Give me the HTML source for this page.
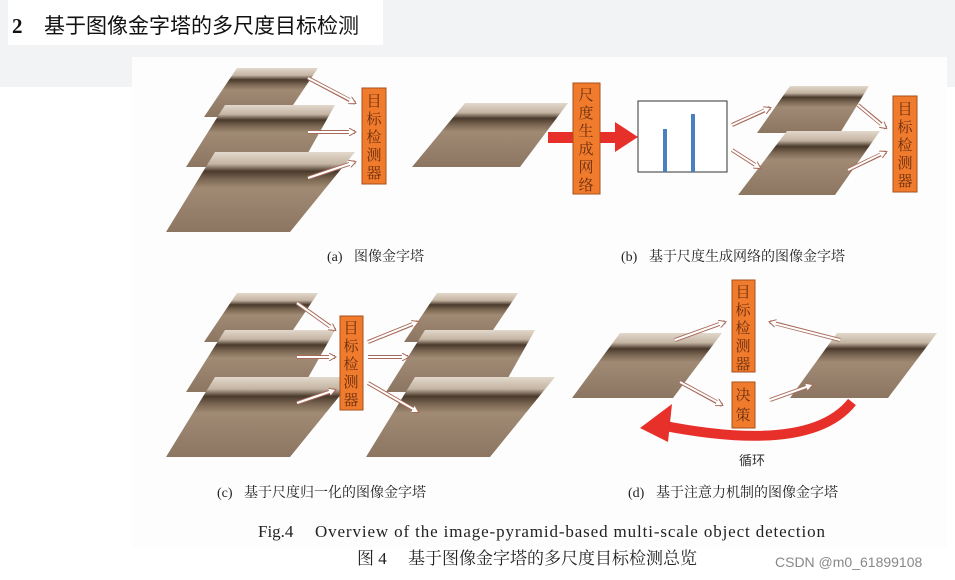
<!DOCTYPE html>
<html><head><meta charset="utf-8"><style>
body{margin:0;width:955px;height:580px;overflow:hidden;background:#f2f3f5;font-family:"Liberation Serif","Noto Serif CJK SC",serif}
svg{position:absolute;left:0;top:0}
</style></head><body>
<svg width="955" height="580" viewBox="0 0 955 580">
<defs>
<linearGradient id="ph" x1="0" y1="0" x2="0" y2="1">
<stop offset="0" stop-color="#e2d8cc"/><stop offset="0.15" stop-color="#c4b4a2"/>
<stop offset="0.24" stop-color="#4a3a2c"/><stop offset="0.34" stop-color="#7a6652"/>
<stop offset="0.45" stop-color="#a08a74"/><stop offset="1" stop-color="#8c7662"/>
</linearGradient>
<marker id="ah" markerWidth="8" markerHeight="8" refX="6" refY="4" orient="auto" markerUnits="userSpaceOnUse"><path d="M0,0 L7,4 L0,8" fill="#fff" stroke="#a86a5a" stroke-width="1"/></marker>
</defs>
<rect x="8" y="0" width="375" height="45" fill="#fff"/>
<rect x="0" y="87" width="955" height="493" fill="#fff"/>
<rect x="132" y="57" width="815" height="490" fill="#fdfdfd"/>
<text x="12" y="33" font-size="21" font-weight="bold" fill="#111">2</text>
<text x="44" y="33" font-size="21" fill="#111" font-family="Noto Sans CJK SC,sans-serif">基于图像金字塔的多尺度目标检测</text>

<g fill="url(#ph)">
<polygon points="237,68 318,68 285,117 204,117"/>
<polygon points="225,105 335,105 300,167 186,167"/>
<polygon points="215,152 355,152 290,232 166,232"/>
<polygon points="465,103 568,103 520,167 412,167"/>
<polygon points="790,86 869,86 840,133 757,133"/>
<polygon points="787,131 880,131 835,195 738,195"/>
<polygon points="237,293 318,293 285,342 204,342"/>
<polygon points="225,330 335,330 300,392 186,392"/>
<polygon points="215,377 355,377 290,457 166,457"/>
<polygon points="437,293 518,293 485,342 404,342"/>
<polygon points="425,330 535,330 500,392 386,392"/>
<polygon points="415,377 555,377 490,457 366,457"/>
<polygon points="620,333 722,333 673,398 572,398"/>
<polygon points="837,333 937,333 888,398 790,398"/>
</g>
<g fill="none" stroke="#a86a5a" stroke-width="4" marker-end="url(#ah)">
<path d="M308,78 L355,103"/><path d="M308,132 L355,132"/><path d="M308,178 L355,162"/>
<path d="M732,125 L770,108"/><path d="M732,150 L760,168"/><path d="M858,105 L886,128"/><path d="M848,170 L886,152"/>
<path d="M297,303 L335,330"/><path d="M297,357 L335,357"/><path d="M297,403 L335,390"/>
<path d="M368,342 L418,322"/><path d="M368,357 L408,357"/><path d="M368,383 L418,412"/>
<path d="M675,340 L725,322"/><path d="M840,340 L770,322"/><path d="M680,382 L722,405"/><path d="M770,400 L812,385"/>
</g>
<g fill="none" stroke="#fff" stroke-width="2">
<path d="M308,78 L352,101"/><path d="M308,132 L352,132"/><path d="M308,178 L352,163"/>
<path d="M732,125 L767,109"/><path d="M732,150 L757,166"/><path d="M858,105 L883,126"/><path d="M848,170 L883,153"/>
<path d="M297,303 L332,328"/><path d="M297,357 L332,357"/><path d="M297,403 L332,391"/>
<path d="M368,342 L415,323"/><path d="M368,357 L405,357"/><path d="M368,383 L415,410"/>
<path d="M675,340 L722,323"/><path d="M840,340 L773,323"/><path d="M680,382 L719,403"/><path d="M770,400 L809,386"/>
</g>
<rect x="548" y="132" width="75" height="11" fill="#e8302a"/>
<polygon points="615,122 638,137 615,152" fill="#e8302a"/>
<g fill="#f07b2c" stroke="#a8501c" stroke-width="1">
<rect x="362" y="88" width="24" height="96"/>
<rect x="573" y="83" width="27" height="111"/>
<rect x="893" y="96" width="24" height="96"/>
<rect x="340" y="316" width="23" height="94"/>
<rect x="732" y="280" width="23" height="92"/>
<rect x="732" y="382" width="23" height="46"/>
</g>
<g font-size="15" fill="#6a2e10" text-anchor="middle" font-family="Noto Serif CJK SC,serif">
<text x="374" y="106">目</text><text x="374" y="124">标</text><text x="374" y="142">检</text><text x="374" y="160">测</text><text x="374" y="178">器</text>
<text x="586" y="100">尺</text><text x="586" y="118">度</text><text x="586" y="136">生</text><text x="586" y="154">成</text><text x="586" y="172">网</text><text x="586" y="190">络</text>
<text x="905" y="114">目</text><text x="905" y="132">标</text><text x="905" y="150">检</text><text x="905" y="168">测</text><text x="905" y="186">器</text>
<text x="351" y="333">目</text><text x="351" y="351">标</text><text x="351" y="369">检</text><text x="351" y="387">测</text><text x="351" y="405">器</text>
<text x="743" y="297">目</text><text x="743" y="315">标</text><text x="743" y="333">检</text><text x="743" y="351">测</text><text x="743" y="369">器</text>
<text x="743" y="400">决</text><text x="743" y="420">策</text>
</g>
<rect x="638" y="101" width="89" height="71" fill="#fff" stroke="#333" stroke-width="1"/>
<rect x="663" y="129" width="4" height="43" fill="#4a7fc0"/>
<rect x="691" y="114" width="4" height="58" fill="#4a7fc0"/>
<path d="M852,402 Q810,455 660,425" fill="none" stroke="#e8302a" stroke-width="10"/>
<polygon points="640,428 672,404 668,442" fill="#e8302a"/>
<text x="752" y="465" font-size="13" fill="#333" text-anchor="middle" font-family="Noto Sans CJK SC,sans-serif">循环</text>

<g font-size="14" fill="#222">
<text x="327" y="261">(a)</text><text x="354" y="261">图像金字塔</text>
<text x="621" y="261">(b)</text><text x="649" y="261">基于尺度生成网络的图像金字塔</text>
<text x="217" y="497">(c)</text><text x="244" y="497">基于尺度归一化的图像金字塔</text>
<text x="628" y="497">(d)</text><text x="656" y="497">基于注意力机制的图像金字塔</text>
<text x="258" y="537" font-size="17">Fig.4</text>
<text x="315" y="537" font-size="17" textLength="510" lengthAdjust="spacing">Overview of the image-pyramid-based multi-scale object detection</text>
<text x="357" y="564" font-size="17">图 4</text>
<text x="408" y="564" font-size="17">基于图像金字塔的多尺度目标检测总览</text>
</g>
<text x="775" y="567" font-size="14" fill="#888" font-family="Liberation Sans,sans-serif">CSDN @m0_61899108</text>
</svg>
</body></html>
